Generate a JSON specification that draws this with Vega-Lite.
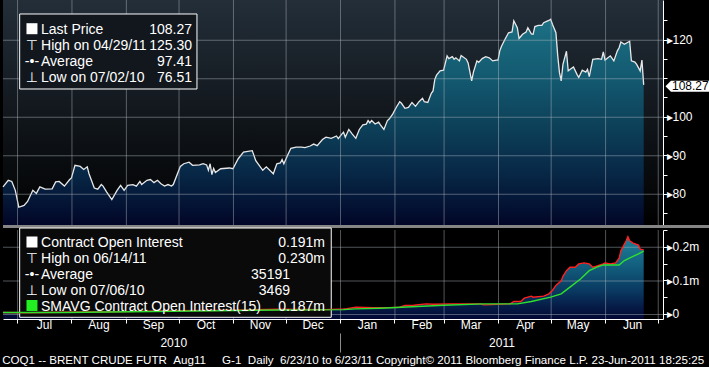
{
  "$schema": "https://vega.github.io/schema/vega-lite/v6.json",
  "background": "#000000",
  "padding": 0,
  "config": {"view": {"stroke": null}, "font": "Liberation Sans"},
  "title": {
    "text": "COQ1 -- BRENT CRUDE FUTR\u00a0\u00a0Aug11\u00a0\u00a0\u00a0\u00a0\u00a0G-1\u00a0\u00a0Daily\u00a0\u00a06/23/10 to 6/23/11 Copyright© 2011 Bloomberg Finance L.P. 23-Jun-2011 18:25:25",
    "orient": "bottom", "anchor": "start", "font": "Liberation Sans",
    "fontSize": 11.6, "fontWeight": "normal", "color": "#ffffff", "offset": 2, "dx": 2
  },
  "datasets": {
    "price": [
      {"date":"2010-06-23","price":81.8},{"date":"2010-06-26","price":83.5},{"date":"2010-06-28","price":83.2},{"date":"2010-06-30","price":80.9},{"date":"2010-07-02","price":76.51},{"date":"2010-07-05","price":77.0},{"date":"2010-07-07","price":78.0},{"date":"2010-07-10","price":80.9},{"date":"2010-07-12","price":80.1},{"date":"2010-07-14","price":81.8},{"date":"2010-07-17","price":81.2},{"date":"2010-07-21","price":81.3},{"date":"2010-07-23","price":83.1},{"date":"2010-07-25","price":83.2},{"date":"2010-07-28","price":82.0},{"date":"2010-07-31","price":83.7},{"date":"2010-08-01","price":84.1},{"date":"2010-08-03","price":87.4},{"date":"2010-08-06","price":87.1},{"date":"2010-08-08","price":86.3},{"date":"2010-08-10","price":87.0},{"date":"2010-08-11","price":85.2},{"date":"2010-08-14","price":81.5},{"date":"2010-08-16","price":81.2},{"date":"2010-08-18","price":82.4},{"date":"2010-08-19","price":82.0},{"date":"2010-08-21","price":80.5},{"date":"2010-08-24","price":78.5},{"date":"2010-08-27","price":80.9},{"date":"2010-08-29","price":82.2},{"date":"2010-08-31","price":80.9},{"date":"2010-09-02","price":82.2},{"date":"2010-09-05","price":82.4},{"date":"2010-09-07","price":82.0},{"date":"2010-09-09","price":83.2},{"date":"2010-09-10","price":82.4},{"date":"2010-09-13","price":83.5},{"date":"2010-09-15","price":83.7},{"date":"2010-09-17","price":82.9},{"date":"2010-09-19","price":83.5},{"date":"2010-09-21","price":82.6},{"date":"2010-09-23","price":82.0},{"date":"2010-09-25","price":82.4},{"date":"2010-09-27","price":82.0},{"date":"2010-09-28","price":82.4},{"date":"2010-10-02","price":87.1},{"date":"2010-10-04","price":87.8},{"date":"2010-10-07","price":88.2},{"date":"2010-10-09","price":87.4},{"date":"2010-10-13","price":87.5},{"date":"2010-10-15","price":87.8},{"date":"2010-10-17","price":87.5},{"date":"2010-10-18","price":86.1},{"date":"2010-10-19","price":87.8},{"date":"2010-10-20","price":85.0},{"date":"2010-10-21","price":86.6},{"date":"2010-10-22","price":85.5},{"date":"2010-10-25","price":86.5},{"date":"2010-10-30","price":86.7},{"date":"2010-11-01","price":86.5},{"date":"2010-11-04","price":89.1},{"date":"2010-11-07","price":90.8},{"date":"2010-11-12","price":91.2},{"date":"2010-11-14","price":88.6},{"date":"2010-11-18","price":86.1},{"date":"2010-11-20","price":87.0},{"date":"2010-11-24","price":85.2},{"date":"2010-11-26","price":87.8},{"date":"2010-11-28","price":88.0},{"date":"2010-11-29","price":88.9},{"date":"2010-11-30","price":87.8},{"date":"2010-12-02","price":89.9},{"date":"2010-12-04","price":91.8},{"date":"2010-12-07","price":92.1},{"date":"2010-12-10","price":92.1},{"date":"2010-12-12","price":92.0},{"date":"2010-12-15","price":92.4},{"date":"2010-12-17","price":92.9},{"date":"2010-12-19","price":92.5},{"date":"2010-12-22","price":94.1},{"date":"2010-12-24","price":94.7},{"date":"2010-12-27","price":94.4},{"date":"2010-12-30","price":95.0},{"date":"2010-12-31","price":94.3},{"date":"2011-01-02","price":95.5},{"date":"2011-01-03","price":96.0},{"date":"2011-01-04","price":94.7},{"date":"2011-01-06","price":96.7},{"date":"2011-01-08","price":95.5},{"date":"2011-01-10","price":94.4},{"date":"2011-01-12","price":96.7},{"date":"2011-01-14","price":97.9},{"date":"2011-01-16","price":98.1},{"date":"2011-01-17","price":99.0},{"date":"2011-01-18","price":98.4},{"date":"2011-01-19","price":99.0},{"date":"2011-01-21","price":98.1},{"date":"2011-01-23","price":98.6},{"date":"2011-01-24","price":97.9},{"date":"2011-01-26","price":96.7},{"date":"2011-01-28","price":99.0},{"date":"2011-01-29","price":99.4},{"date":"2011-01-31","price":100.7},{"date":"2011-02-02","price":102.4},{"date":"2011-02-04","price":103.9},{"date":"2011-02-05","price":103.5},{"date":"2011-02-07","price":102.2},{"date":"2011-02-09","price":102.4},{"date":"2011-02-11","price":103.7},{"date":"2011-02-13","price":102.7},{"date":"2011-02-15","price":103.9},{"date":"2011-02-17","price":104.8},{"date":"2011-02-18","price":103.9},{"date":"2011-02-20","price":103.7},{"date":"2011-02-22","price":106.1},{"date":"2011-02-23","price":106.7},{"date":"2011-02-24","price":109.7},{"date":"2011-02-25","price":110.8},{"date":"2011-02-27","price":111.9},{"date":"2011-03-01","price":112.1},{"date":"2011-03-03","price":115.8},{"date":"2011-03-04","price":115.1},{"date":"2011-03-06","price":115.6},{"date":"2011-03-07","price":114.9},{"date":"2011-03-08","price":115.3},{"date":"2011-03-10","price":114.5},{"date":"2011-03-11","price":115.9},{"date":"2011-03-14","price":114.9},{"date":"2011-03-15","price":113.9},{"date":"2011-03-17","price":109.3},{"date":"2011-03-18","price":111.6},{"date":"2011-03-20","price":114.5},{"date":"2011-03-21","price":114.1},{"date":"2011-03-23","price":115.1},{"date":"2011-03-25","price":115.6},{"date":"2011-03-27","price":115.3},{"date":"2011-03-29","price":114.5},{"date":"2011-03-31","price":114.7},{"date":"2011-04-01","price":114.7},{"date":"2011-04-02","price":117.1},{"date":"2011-04-03","price":118.3},{"date":"2011-04-05","price":120.1},{"date":"2011-04-07","price":121.8},{"date":"2011-04-09","price":122.0},{"date":"2011-04-10","price":124.9},{"date":"2011-04-12","price":123.1},{"date":"2011-04-13","price":120.3},{"date":"2011-04-15","price":121.4},{"date":"2011-04-17","price":122.0},{"date":"2011-04-18","price":123.1},{"date":"2011-04-20","price":121.5},{"date":"2011-04-21","price":121.4},{"date":"2011-04-22","price":123.4},{"date":"2011-04-24","price":123.7},{"date":"2011-04-26","price":123.7},{"date":"2011-04-27","price":124.4},{"date":"2011-04-29","price":124.8},{"date":"2011-04-30","price":125.0},{"date":"2011-05-01","price":125.3},{"date":"2011-05-02","price":124.0},{"date":"2011-05-04","price":121.8},{"date":"2011-05-05","price":116.0},{"date":"2011-05-06","price":111.5},{"date":"2011-05-07","price":109.3},{"date":"2011-05-08","price":113.6},{"date":"2011-05-10","price":117.0},{"date":"2011-05-11","price":111.9},{"date":"2011-05-14","price":112.9},{"date":"2011-05-16","price":111.0},{"date":"2011-05-17","price":110.2},{"date":"2011-05-19","price":112.1},{"date":"2011-05-21","price":111.6},{"date":"2011-05-22","price":112.3},{"date":"2011-05-23","price":110.4},{"date":"2011-05-25","price":114.9},{"date":"2011-05-28","price":115.1},{"date":"2011-05-30","price":114.9},{"date":"2011-05-31","price":116.8},{"date":"2011-06-01","price":114.7},{"date":"2011-06-04","price":115.8},{"date":"2011-06-06","price":114.5},{"date":"2011-06-08","price":117.1},{"date":"2011-06-09","price":117.9},{"date":"2011-06-10","price":119.4},{"date":"2011-06-12","price":118.8},{"date":"2011-06-15","price":119.6},{"date":"2011-06-16","price":114.5},{"date":"2011-06-18","price":114.2},{"date":"2011-06-19","price":113.6},{"date":"2011-06-21","price":111.9},{"date":"2011-06-22","price":114.7},{"date":"2011-06-23","price":108.27}
    ],
    "oi": [
      {"date":"2010-06-23","oi":4500},{"date":"2010-07-06","oi":3469},{"date":"2010-07-28","oi":5000},{"date":"2010-08-31","oi":7000},{"date":"2010-09-28","oi":10000},{"date":"2010-11-02","oi":11000},{"date":"2010-11-27","oi":14000},{"date":"2010-12-23","oi":13000},{"date":"2011-01-03","oi":15000},{"date":"2011-01-05","oi":16000},{"date":"2011-01-10","oi":20000},{"date":"2011-01-20","oi":19000},{"date":"2011-01-29","oi":19000},{"date":"2011-02-04","oi":20000},{"date":"2011-02-07","oi":25000},{"date":"2011-02-12","oi":26000},{"date":"2011-02-19","oi":30000},{"date":"2011-02-23","oi":29000},{"date":"2011-03-05","oi":30000},{"date":"2011-03-13","oi":30000},{"date":"2011-03-22","oi":30000},{"date":"2011-03-24","oi":27000},{"date":"2011-04-08","oi":30000},{"date":"2011-04-10","oi":37000},{"date":"2011-04-14","oi":37000},{"date":"2011-04-16","oi":47000},{"date":"2011-04-20","oi":53000},{"date":"2011-04-21","oi":50000},{"date":"2011-04-27","oi":53000},{"date":"2011-04-30","oi":60000},{"date":"2011-05-02","oi":70000},{"date":"2011-05-04","oi":85000},{"date":"2011-05-07","oi":99000},{"date":"2011-05-08","oi":112000},{"date":"2011-05-10","oi":129000},{"date":"2011-05-12","oi":139000},{"date":"2011-05-15","oi":139000},{"date":"2011-05-17","oi":149000},{"date":"2011-05-20","oi":152000},{"date":"2011-05-23","oi":149000},{"date":"2011-05-25","oi":139000},{"date":"2011-05-27","oi":142000},{"date":"2011-05-31","oi":149000},{"date":"2011-06-01","oi":152000},{"date":"2011-06-04","oi":149000},{"date":"2011-06-07","oi":152000},{"date":"2011-06-09","oi":166000},{"date":"2011-06-10","oi":188000},{"date":"2011-06-13","oi":218000},{"date":"2011-06-14","oi":230000},{"date":"2011-06-15","oi":218000},{"date":"2011-06-17","oi":211000},{"date":"2011-06-20","oi":205000},{"date":"2011-06-21","oi":193000},{"date":"2011-06-23","oi":191000}
    ],
    "sma": [
      {"date":"2010-06-23","sma":4500},{"date":"2010-07-28","sma":4500},{"date":"2010-09-28","sma":8000},{"date":"2010-11-27","sma":12000},{"date":"2011-01-03","sma":13000},{"date":"2011-01-10","sma":15000},{"date":"2011-01-24","sma":17000},{"date":"2011-02-14","sma":22000},{"date":"2011-03-01","sma":26000},{"date":"2011-03-24","sma":30000},{"date":"2011-04-12","sma":30000},{"date":"2011-04-20","sma":37000},{"date":"2011-05-01","sma":50000},{"date":"2011-05-07","sma":60000},{"date":"2011-05-12","sma":80000},{"date":"2011-05-18","sma":104000},{"date":"2011-05-23","sma":129000},{"date":"2011-05-27","sma":139000},{"date":"2011-05-31","sma":146000},{"date":"2011-06-09","sma":146000},{"date":"2011-06-12","sma":159000},{"date":"2011-06-16","sma":169000},{"date":"2011-06-20","sma":179000},{"date":"2011-06-23","sma":187000}
    ]
  },
  "spacing": 5,
  "bounds": "flush",
  "vconcat": [
    {
      "width": 660,
      "height": 225,
      "view": {"stroke": null, "fill": {"gradient": "linear", "x1": 0, "y1": 0, "x2": 0, "y2": 1, "stops": [{"offset": 0, "color": "#232e39"}, {"offset": 1, "color": "#000000"}]}},
      "resolve": {"axis": {"x": "independent", "y": "independent"}},
      "layer": [
        {
          "data": {"name": "price"},
          "mark": {"type": "area",
            "fill": {"gradient": "linear", "x1": 0, "y1": 0, "x2": 0, "y2": 1, "stops": [{"offset": 0, "color": "#1a8fa6"}, {"offset": 0.3, "color": "#11718f"}, {"offset": 0.5, "color": "#0c5676"}, {"offset": 0.72, "color": "#083862"}, {"offset": 0.86, "color": "#05214f"}, {"offset": 1, "color": "#020838"}]},
            "line": {"stroke": "#e8e8e8", "strokeWidth": 1.3}},
          "encoding": {
            "x": {"field": "date", "type": "temporal", "scale": {"domain": [{"year": 2010, "month": 6, "date": 23}, {"year": 2011, "month": 7, "date": 4}]}, "axis": null},
            "y": {"field": "price", "type": "quantitative", "scale": {"domain": [71.9, 130.3], "zero": false, "nice": false},
              "axis": {"orient": "right", "title": null, "grid": false, "values": [75, 80, 85, 90, 95, 100, 105, 110, 115, 120, 125],
                "labelExpr": "datum.value == 80 ? '▸80' : datum.value == 90 ? '▸90' : datum.value == 100 ? '▸100' : datum.value == 120 ? '▸120' : ''",
                "tickSize": 4, "tickColor": "#ffffff", "domainColor": "#ffffff", "labelColor": "#ffffff",
                "labelFont": "Liberation Sans", "labelFontSize": 12, "labelPadding": -1,
                "labelOverlap": false, "labelBound": false, "labelFlush": false}},
            "y2": {"datum": 71.9}
          }
        },
        {
          "data": {"values": [{"m":"2010-07-01"},{"m":"2010-08-01"},{"m":"2010-09-01"},{"m":"2010-10-01"},{"m":"2010-11-01"},{"m":"2010-12-01"},{"m":"2011-01-01"},{"m":"2011-02-01"},{"m":"2011-03-01"},{"m":"2011-04-01"},{"m":"2011-05-01"},{"m":"2011-06-01"},{"m":"2011-07-01"}]},
          "mark": {"type": "rect", "fill": "#b4bac0", "fillOpacity": 0.45, "x2Offset": 1},
          "encoding": {"x": {"field": "m", "type": "temporal", "axis": null}, "x2": {"field": "m"}, "y": {"datum": 130.3, "axis": null}, "y2": {"datum": 71.9}}
        },
        {
          "data": {"values": [{"level":80},{"level":90},{"level":100},{"level":110},{"level":120}]},
          "mark": {"type": "rect", "fill": "#b4bac0", "fillOpacity": 0.45, "y2Offset": 1},
          "encoding": {"y": {"field": "level", "type": "quantitative", "axis": null}, "y2": {"field": "level"}, "x": {"datum": {"year": 2010, "month": 6, "date": 23}, "axis": null}, "x2": {"datum": {"year": 2011, "month": 7, "date": 4}}}
        },
        {
          "data": {"values": [{}]},
          "mark": {"type": "rect", "fill": "#11171d", "stroke": "#ffffff", "strokeWidth": 1},
          "encoding": {
            "x": {"datum": {"year": 2010, "month": 7, "date": 2, "hours": 12}, "axis": null},
            "x2": {"datum": {"year": 2010, "month": 10, "date": 11, "hours": 12}},
            "y": {"datum": 126.67, "axis": null},
            "y2": {"datum": 107.2}
          }
        },
        {
          "data": {"values": [{}]},
          "mark": {"type": "text", "text": ["Last Price", "High on 04/29/11", "Average", "Low on 07/02/10"], "align": "left", "baseline": "alphabetic", "lineHeight": 16, "font": "Liberation Sans", "fontSize": 14, "color": "#ffffff"},
          "encoding": {"x": {"datum": {"year": 2010, "month": 7, "date": 14, "hours": 16}, "axis": null}, "y": {"datum": 121.48, "axis": null}}
        },
        {
          "data": {"values": [{}]},
          "mark": {"type": "text", "text": ["108.27", "125.30", "97.41", "76.51"], "align": "right", "baseline": "alphabetic", "lineHeight": 16, "font": "Liberation Sans", "fontSize": 14, "color": "#ffffff"},
          "encoding": {"x": {"datum": {"year": 2010, "month": 10, "date": 8, "hours": 16}, "axis": null}, "y": {"datum": 121.48, "axis": null}}
        },
        {
          "data": {"values": [{}]},
          "mark": {"type": "text", "text": ["⊤", "-•-", "⊥"], "align": "center", "baseline": "alphabetic", "lineHeight": 16, "font": "Liberation Sans, DejaVu Sans", "fontSize": 14, "color": "#ffffff"},
          "encoding": {"x": {"datum": {"year": 2010, "month": 7, "date": 9, "hours": 12}, "axis": null}, "y": {"datum": 117.32, "axis": null}}
        },
        {
          "data": {"values": [{}]},
          "mark": {"type": "point", "shape": "square", "filled": true, "size": 121, "color": "#ffffff", "opacity": 1},
          "encoding": {"x": {"datum": {"year": 2010, "month": 7, "date": 9, "hours": 12}, "axis": null}, "y": {"datum": 122.85, "axis": null}}
        },
        {
          "data": {"values": [{}]},
          "mark": {"type": "rect", "fill": "#ffffff"},
          "encoding": {
            "x": {"datum": {"year": 2011, "month": 7, "date": 8, "hours": 13}, "axis": null},
            "x2": {"datum": {"year": 2011, "month": 7, "date": 31, "hours": 17}},
            "y": {"datum": 109.35, "axis": null},
            "y2": {"datum": 106.5}
          }
        },
        {
          "data": {"values": [{}]},
          "mark": {"type": "point", "shape": "M-1,0L0,-1L0,1Z", "filled": true, "size": 121, "color": "#ffffff", "opacity": 1},
          "encoding": {"x": {"datum": {"year": 2011, "month": 7, "date": 8, "hours": 13}, "axis": null}, "y": {"datum": 107.93, "axis": null}}
        },
        {
          "data": {"values": [{}]},
          "mark": {"type": "text", "text": "108.27", "align": "left", "baseline": "middle", "dx": 1, "font": "Liberation Sans", "fontSize": 12, "color": "#000000"},
          "encoding": {"x": {"datum": {"year": 2011, "month": 7, "date": 8, "hours": 13}, "axis": null}, "y": {"datum": 107.93, "axis": null}}
        }
      ]
    },
    {
      "width": 660,
      "height": 89,
      "view": {"stroke": null, "fill": "#000000"},
      "resolve": {"axis": {"x": "independent", "y": "independent"}},
      "layer": [
        {
          "data": {"name": "oi"},
          "mark": {"type": "area",
            "fill": {"gradient": "linear", "x1": 0, "y1": 0, "x2": 0, "y2": 1, "stops": [{"offset": 0, "color": "#1e8199"}, {"offset": 0.35, "color": "#125f7e"}, {"offset": 0.65, "color": "#0a3a62"}, {"offset": 1, "color": "#020633"}]}},
          "encoding": {
            "x": {"field": "date", "type": "temporal", "scale": {"domain": [{"year": 2010, "month": 6, "date": 23}, {"year": 2011, "month": 7, "date": 4}]},
              "axis": {"title": null, "orient": "bottom", "grid": false,
                "values": [{"year": 2010, "month": 7, "date": 1}, {"year": 2010, "month": 8, "date": 1}, {"year": 2010, "month": 9, "date": 1}, {"year": 2010, "month": 10, "date": 1}, {"year": 2010, "month": 11, "date": 1}, {"year": 2010, "month": 12, "date": 1}, {"year": 2011, "month": 1, "date": 1}, {"year": 2011, "month": 2, "date": 1}, {"year": 2011, "month": 3, "date": 1}, {"year": 2011, "month": 4, "date": 1}, {"year": 2011, "month": 5, "date": 1}, {"year": 2011, "month": 6, "date": 1}, {"year": 2011, "month": 7, "date": 1}],
                "labelExpr": "(year(datum.value) == 2011 && month(datum.value) == 6) ? '' : timeFormat(datum.value, '%b')",
                "tickSize": 4, "tickColor": "#ffffff", "domainColor": "#ffffff", "labelColor": "#ffffff",
                "labelFont": "Liberation Sans", "labelFontSize": 12,
                "labelOffset": 27, "labelPadding": -4, "labelFlush": false, "labelOverlap": false, "labelBound": false}},
            "y": {"field": "oi", "type": "quantitative", "scale": {"domain": [-15000, 250000], "zero": false, "nice": false},
              "axis": {"orient": "right", "title": null, "grid": false, "values": [0, 50000, 100000, 150000, 200000, 250000],
                "labelExpr": "datum.value == 0 ? '▸0' : datum.value == 100000 ? '▸0.1m' : datum.value == 200000 ? '▸0.2m' : ''",
                "tickSize": 4, "tickColor": "#ffffff", "domainColor": "#ffffff", "labelColor": "#ffffff",
                "labelFont": "Liberation Sans", "labelFontSize": 12, "labelPadding": -1,
                "labelOverlap": false, "labelBound": false, "labelFlush": false}},
            "y2": {"datum": -15000}
          }
        },
        {
          "data": {"values": [{"m":"2010-07-01"},{"m":"2010-08-01"},{"m":"2010-09-01"},{"m":"2010-10-01"},{"m":"2010-11-01"},{"m":"2010-12-01"},{"m":"2011-01-01"},{"m":"2011-02-01"},{"m":"2011-03-01"},{"m":"2011-04-01"},{"m":"2011-05-01"},{"m":"2011-06-01"},{"m":"2011-07-01"}]},
          "mark": {"type": "rect", "fill": "#b4bac0", "fillOpacity": 0.45, "x2Offset": 1},
          "encoding": {"x": {"field": "m", "type": "temporal", "axis": null}, "x2": {"field": "m"}, "y": {"datum": 250000, "axis": null}, "y2": {"datum": -15000}}
        },
        {
          "data": {"values": [{"level":0},{"level":100000},{"level":200000}]},
          "mark": {"type": "rect", "fill": "#b4bac0", "fillOpacity": 0.45, "y2Offset": 1},
          "encoding": {"y": {"field": "level", "type": "quantitative", "axis": null}, "y2": {"field": "level"}, "x": {"datum": {"year": 2010, "month": 6, "date": 23}, "axis": null}, "x2": {"datum": {"year": 2011, "month": 7, "date": 4}}}
        },
        {
          "data": {"values": [{}]},
          "mark": {"type": "rect", "fill": "#858585"},
          "encoding": {
            "x": {"datum": {"year": 2010, "month": 6, "date": 23}, "axis": null},
            "x2": {"datum": {"year": 2011, "month": 7, "date": 31, "hours": 17}},
            "y": {"datum": 264888, "axis": null},
            "y2": {"datum": 255955}
          }
        },
        {
          "data": {"values": [{}]},
          "mark": {"type": "rect", "fill": "#0a0a0a", "stroke": "#ffffff", "strokeWidth": 1},
          "encoding": {
            "x": {"datum": {"year": 2010, "month": 7, "date": 2, "hours": 12}, "axis": null},
            "x2": {"datum": {"year": 2010, "month": 12, "date": 27}},
            "y": {"datum": 255955, "axis": null},
            "y2": {"datum": -9935}
          }
        },
        {
          "data": {"name": "oi"},
          "mark": {"type": "line", "color": "#ff2020", "strokeWidth": 1.4},
          "encoding": {"x": {"field": "date", "type": "temporal", "axis": null}, "y": {"field": "oi", "type": "quantitative", "axis": null}}
        },
        {
          "data": {"name": "sma"},
          "mark": {"type": "line", "color": "#2fe02f", "strokeWidth": 1.4},
          "encoding": {
            "x": {"field": "date", "type": "temporal",
              "axis": {"title": null, "grid": false, "domain": false, "orient": "bottom", "offset": 14,
                "values": [{"year": 2010, "month": 9, "date": 28}, {"year": 2011, "month": 1, "date": 1}, {"year": 2011, "month": 4, "date": 3}],
                "labelExpr": "month(datum.value) == 0 ? '' : timeFormat(datum.value, '%Y')",
                "tickSize": 19, "tickColor": {"condition": {"test": "month(datum.value) != 0", "value": "transparent"}, "value": "#8c8c8c"},
                "labelPadding": -15, "labelColor": "#ffffff",
                "labelFont": "Liberation Sans", "labelFontSize": 12,
                "labelFlush": false, "labelOverlap": false, "labelBound": false}},
            "y": {"field": "sma", "type": "quantitative", "axis": null}
          }
        },
        {
          "data": {"values": [{}]},
          "mark": {"type": "text", "text": ["Contract Open Interest", "High on 06/14/11", "Average", "Low on 07/06/10", "SMAVG Contract Open Interest(15)"], "align": "left", "baseline": "alphabetic", "lineHeight": 16, "font": "Liberation Sans", "fontSize": 14, "color": "#ffffff"},
          "encoding": {"x": {"datum": {"year": 2010, "month": 7, "date": 14, "hours": 16}, "axis": null}, "y": {"datum": 197894, "axis": null}}
        },
        {
          "data": {"values": [{}]},
          "mark": {"type": "text", "text": ["0.191m", "0.230m"], "align": "right", "baseline": "alphabetic", "lineHeight": 16, "font": "Liberation Sans", "fontSize": 14, "color": "#ffffff"},
          "encoding": {"x": {"datum": {"year": 2010, "month": 12, "date": 23, "hours": 10}, "axis": null}, "y": {"datum": 197894, "axis": null}}
        },
        {
          "data": {"values": [{}]},
          "mark": {"type": "text", "text": "0.187m", "align": "right", "baseline": "alphabetic", "font": "Liberation Sans", "fontSize": 14, "color": "#ffffff"},
          "encoding": {"x": {"datum": {"year": 2010, "month": 12, "date": 23, "hours": 10}, "axis": null}, "y": {"datum": 7334, "axis": null}}
        },
        {
          "data": {"values": [{}]},
          "mark": {"type": "text", "text": ["35191", "3469"], "align": "right", "baseline": "alphabetic", "lineHeight": 16, "font": "Liberation Sans", "fontSize": 14, "color": "#ffffff"},
          "encoding": {"x": {"datum": {"year": 2010, "month": 12, "date": 3, "hours": 12}, "axis": null}, "y": {"datum": 102614, "axis": null}}
        },
        {
          "data": {"values": [{}]},
          "mark": {"type": "text", "text": ["⊤", "-•-", "⊥"], "align": "center", "baseline": "alphabetic", "lineHeight": 16, "font": "Liberation Sans, DejaVu Sans", "fontSize": 14, "color": "#ffffff"},
          "encoding": {"x": {"datum": {"year": 2010, "month": 7, "date": 9, "hours": 12}, "axis": null}, "y": {"datum": 150254, "axis": null}}
        },
        {
          "data": {"values": [{}]},
          "mark": {"type": "point", "shape": "square", "filled": true, "size": 121, "color": "#ffffff", "opacity": 1},
          "encoding": {"x": {"datum": {"year": 2010, "month": 7, "date": 9, "hours": 12}, "axis": null}, "y": {"datum": 214270, "axis": null}}
        },
        {
          "data": {"values": [{}]},
          "mark": {"type": "point", "shape": "square", "filled": true, "size": 121, "color": "#22ee22", "opacity": 1},
          "encoding": {"x": {"datum": {"year": 2010, "month": 7, "date": 9, "hours": 12}, "axis": null}, "y": {"datum": 25199, "axis": null}}
        }
      ]
    }
  ]
}
